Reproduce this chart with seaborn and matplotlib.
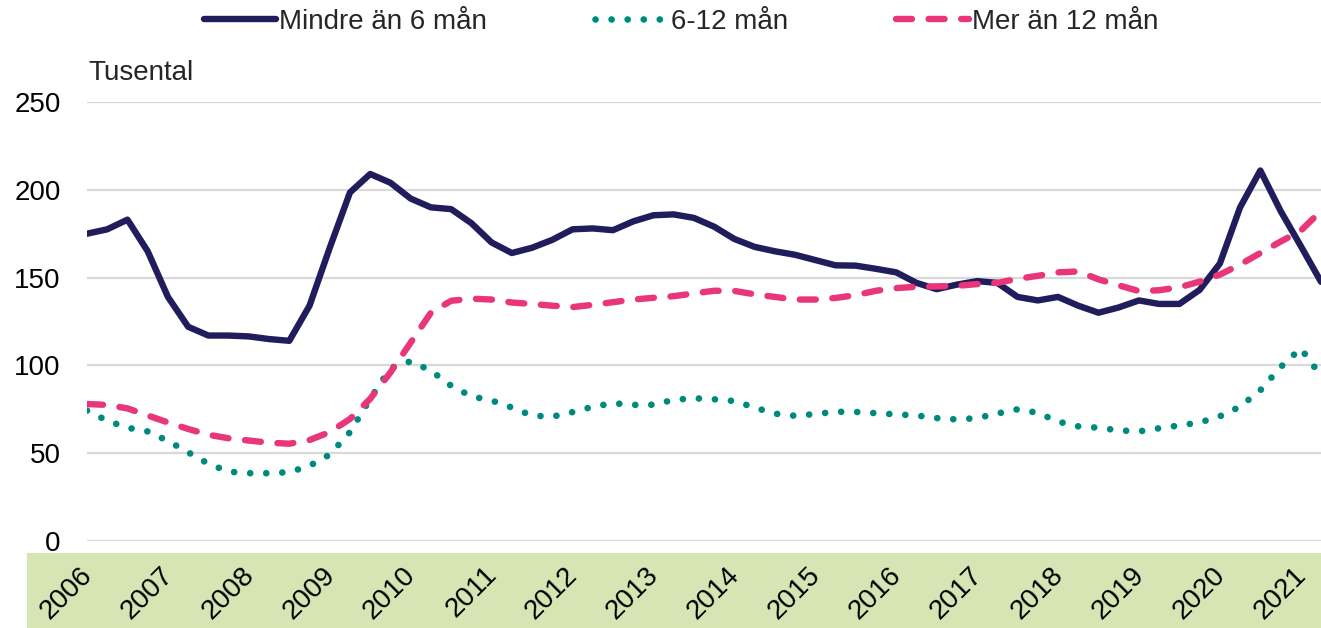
import numpy as np
import pandas as pd
import matplotlib
matplotlib.use('Agg')
import matplotlib.pyplot as plt
import matplotlib.transforms as mtransforms
from matplotlib.patches import Rectangle
import seaborn as sns

# quarterly values, thousands
quarters = pd.period_range('2006Q1', '2021Q2', freq='Q')
year_labels = [str(y) for y in range(2006, 2022)]

under_6 = [175, 177.5, 183, 165, 139, 122, 117, 117, 116.5, 115, 114, 134,
           167, 198.5, 209, 204, 195, 190, 189, 181, 170, 164, 167, 171.5,
           177.5, 178, 177, 182, 185.5, 186, 184, 179, 172, 167.5, 165, 163,
           160, 157, 156.8, 155, 153, 147, 143.4, 146, 148, 147, 139, 137,
           139, 134, 130, 133, 137, 135, 135, 143, 158, 190, 211, 188,
           168, 147.6]

m6_12 = [74.3, 68.5, 64.5, 62.4, 57, 50.5, 44, 39.5, 38.6, 38.6, 39.2, 42.8,
         49.2, 62, 81, 98.5, 102.3, 97, 88.4, 82.4, 80, 76, 71.4, 70.8,
         73.4, 76.4, 78.5, 77.5, 77.6, 80.4, 81.3, 80.7, 79.7, 76, 72.5, 71.3,
         72.3, 73.6, 73.5, 72.8, 72.1, 71.5, 70, 69.2, 70, 72.6, 75, 73,
         68, 65.3, 64.5, 63, 62.4, 64.2, 65.8, 67.5, 71, 76.5, 85.8, 99,
         109.7, 94]

over_12 = [78, 77.5, 75.5, 71.5, 67.5, 63.8, 60.5, 58.5, 57.2, 56, 55.4, 57.5,
           62, 69.5, 81, 96, 113, 130, 136.8, 138, 137.5, 135.8, 135, 134,
           133.2, 134.5, 136, 137.5, 138.5, 139.4, 141, 142.5, 142.4, 140.5, 139, 137.5,
           137.5, 138.4, 140, 142.5, 144, 144.8, 145, 145.3, 146.3, 147, 149.3, 151,
           153, 153.5, 149, 145.6, 142.3, 142.8, 144.5, 147.7, 151.7, 157.4, 164, 170.5,
           176.7, 188]

NAVY = '#211c5c'
TEAL = '#00897f'
PINK = '#e9357a'
BAND = '#d5e5b3'

sns.set_theme(style='white')
plt.rcParams['font.family'] = ['Liberation Sans', 'DejaVu Sans']

t = np.array([q.year + (q.quarter - 1) / 4 for q in quarters])
df = pd.DataFrame({'t': t, 'under_6': under_6, 'm6_12': m6_12, 'over_12': over_12})

W, H = 1321, 628
fig = plt.figure(figsize=(W / 100, H / 100), dpi=100, facecolor='white')
ax = fig.add_axes([87 / W, 1 - 541 / H, 1 - 87 / W, (541 - 102) / H])

# green band behind the year labels
fig.add_artist(Rectangle((27 / W, 0), 1 - 27 / W, 1 - 553 / H,
                         transform=fig.transFigure, facecolor=BAND,
                         edgecolor='none', zorder=-5))

sns.lineplot(data=df, x='t', y='under_6', ax=ax, color=NAVY, lw=4.6,
             solid_capstyle='round', solid_joinstyle='round',
             label='Mindre än 6 mån')
sns.lineplot(data=df, x='t', y='m6_12', ax=ax, color=TEAL, lw=4.8,
             linestyle=(0, (0.01, 2.4)), dash_capstyle='round',
             dash_joinstyle='round', label='6-12 mån')
sns.lineplot(data=df, x='t', y='over_12', ax=ax, color=PINK, lw=4.6,
             linestyle=(0, (2.5, 2.6)), dash_capstyle='round',
             dash_joinstyle='round', label='Mer än 12 mån')

ax.set_xlim(t[0], t[-1])
ax.set_ylim(0, 250)
ax.set_yticks(range(0, 251, 50))
ax.set_xticks(range(2006, 2022))
ax.set_xticklabels(year_labels)
ax.set_xlabel('')
ax.set_ylabel('')
ax.grid(axis='y', color='#d9d9d9', lw=1.6)
ax.grid(axis='x', visible=False)
ax.set_axisbelow(True)
for s in ax.spines.values():
    s.set_visible(False)

ax.tick_params(axis='y', length=0, pad=19, labelsize=20, labelcolor='black')
ax.tick_params(axis='x', length=0, pad=15, labelsize=20, labelcolor='black')
shift = mtransforms.ScaledTranslation(-0.08, 0, fig.dpi_scale_trans)
for lab in ax.get_xticklabels():
    lab.set_rotation(45)
    lab.set_ha('right')
    lab.set_va('top')
    lab.set_rotation_mode('anchor')
    lab.set_transform(lab.get_transform() + shift)

fig.text(88 / W, 1 - 80 / H, 'Tusental', fontsize=20, va='baseline', ha='left')

ax.legend(loc='center', bbox_to_anchor=(681 / W, 1 - 22 / H),
          bbox_transform=fig.transFigure, ncol=3, frameon=False, fontsize=20,
          handlelength=2.6, handletextpad=0.12, columnspacing=3.9,
          borderaxespad=0, borderpad=0)

fig.savefig('out.png', dpi=100, facecolor='white')
